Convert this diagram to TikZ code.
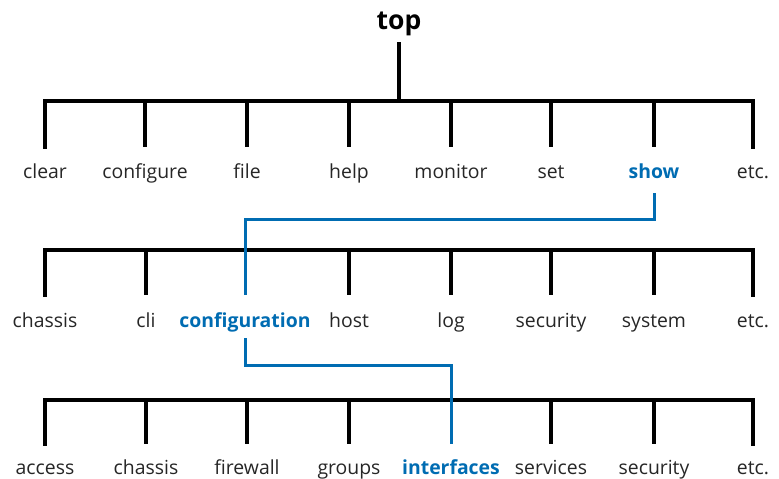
\documentclass[tikz,border=0pt]{standalone}
\usepackage{fontspec}
\setmainfont{Open Sans}
\definecolor{jblue}{RGB}{0,108,178}
\begin{document}
\begin{tikzpicture}[x=1pt,y=-1pt,
  lbl/.style={font=\fontsize{19.4}{23}\selectfont, text=black!85, inner sep=0pt, anchor=base},
  hl/.style={lbl, font=\fontsize{19.4}{23}\selectfont\bfseries, text=jblue},
  bar/.style={line width=3.6pt, black, line cap=rect, line join=miter},
  tick/.style={line width=3.6pt, black},
  path/.style={line width=3pt, jblue, line join=miter}]
\useasboundingbox (0,0) rectangle (779,479);
% root
\node[font=\fontsize{26.5}{30}\selectfont\bfseries, inner sep=0pt, anchor=base] (top) at (399,29) {top};
% level 1
\foreach \n/\t/\x in {a1/clear/45, a2/configure/145, a3/file/247, a4/help/349, a5/monitor/451, a6/set/551, a8/etc./753}
  \node[lbl] (\n) at (\x,178) {\t};
\node[hl] (a7) at (654,178) {show};
% level 2
\foreach \n/\t/\x in {b1/chassis/45, b2/cli/146, b4/host/349, b5/log/451, b6/security/551, b7/system/654, b8/etc./753}
  \node[lbl] (\n) at (\x,327) {\t};
\node[hl] (b3) at (245,327) {configuration};
% level 3
\foreach \n/\t/\x in {c1/access/45, c2/chassis/146, c3/firewall/247, c4/groups/349, c6/services/551, c7/security/654, c8/etc./753}
  \node[lbl] (\n) at (\x,474) {\t};
\node[hl] (c5) at (451,474) {interfaces};
% bars
\coordinate (r1) at (399,101);
\coordinate (r2) at (399,250);
\coordinate (r3) at (399,400);
\draw[tick] (top.south |- 0,42) -- (r1);
\draw[bar] (a1 |- 0,147) -- (a1 |- r1) -- (a8 |- r1) -- (a8 |- 0,147);
\foreach \n in {a2,a3,a4,a5,a6,a7} \draw[tick] (\n |- r1) -- (\n |- 0,147);
\draw[bar] (b1 |- 0,295) -- (b1 |- r2) -- (b8 |- r2) -- (b8 |- 0,295);
\foreach \n in {b2,b4,b5,b6,b7} \draw[tick] (\n |- r2) -- (\n |- 0,295);
\draw[bar] (c1 |- 0,444) -- (c1 |- r3) -- (c8 |- r3) -- (c8 |- 0,444);
\foreach \n in {c2,c3,c4,c6,c7} \draw[tick] (\n |- r3) -- (\n |- 0,444);
% highlighted path
\coordinate (j1) at (0,219);
\coordinate (j2) at (0,365);
\draw[path] (a7 |- 0,193) -- (a7 |- j1) -- (b3 |- j1) -- (b3 |- 0,295);
\draw[path] (b3 |- 0,338) -- (b3 |- j2) -- (c5 |- j2) -- (c5 |- 0,444);
\end{tikzpicture}
\end{document}
